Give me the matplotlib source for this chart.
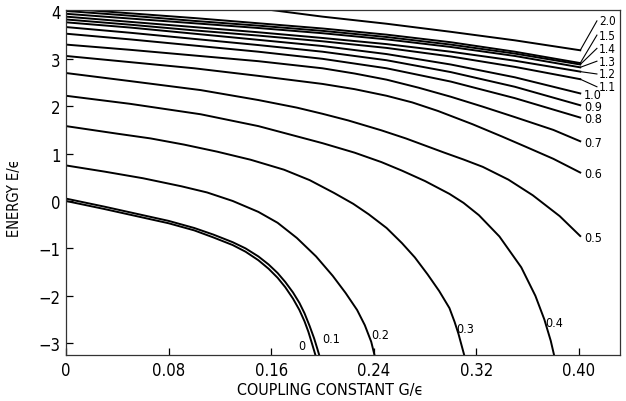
import matplotlib
matplotlib.use("Agg")
import matplotlib.pyplot as plt

plt.rcParams['font.family'] = ['DejaVu Sans']
plt.rcParams['font.stretch'] = 'condensed'

# ---- data ----
labels = ["0", "0.1", "0.2", "0.3", "0.4", "0.5", "0.6", "0.7", "0.8", "0.9",
          "1.0", "1.1", "1.2", "1.3", "1.4", "1.5", "2.0"]

g_0 = [0, 0.03, 0.06, 0.08, 0.10, 0.115, 0.13, 0.14, 0.15, 0.158, 0.165, 0.171, 0.177,
       0.182, 0.186, 0.189, 0.1915, 0.1935, 0.195]
e_0 = [0.0, -0.17, -0.35, -0.47, -0.62, -0.77, -0.93, -1.07, -1.25, -1.43, -1.62, -1.82,
       -2.06, -2.30, -2.54, -2.76, -2.98, -3.16, -3.3]

g_01 = [0, 0.03, 0.06, 0.08, 0.10, 0.115, 0.13, 0.14, 0.15, 0.158, 0.165, 0.171, 0.177,
        0.182, 0.186, 0.19, 0.1935, 0.196, 0.198]
e_01 = [0.05, -0.12, -0.30, -0.42, -0.57, -0.71, -0.87, -1.00, -1.17, -1.34, -1.52, -1.71,
        -1.93, -2.15, -2.37, -2.64, -2.90, -3.12, -3.3]

g_02 = [0, 0.03, 0.06, 0.09, 0.11, 0.13, 0.15, 0.165, 0.18, 0.195, 0.208, 0.218, 0.227,
        0.233, 0.238, 0.241]
e_02 = [0.75, 0.62, 0.48, 0.31, 0.18, 0.00, -0.23, -0.46, -0.78, -1.17, -1.58, -1.94, -2.30,
        -2.62, -2.97, -3.3]

g_03 = [0, 0.04, 0.066, 0.092, 0.118, 0.144, 0.170, 0.19, 0.209, 0.224, 0.236, 0.25, 0.262,
        0.272, 0.282, 0.291, 0.299, 0.303, 0.306, 0.309, 0.311]
e_03 = [1.58, 1.42, 1.32, 1.19, 1.04, 0.87, 0.66, 0.44, 0.17, -0.06, -0.28, -0.57, -0.89,
        -1.19, -1.55, -1.90, -2.26, -2.55, -2.80, -3.10, -3.3]

g_04 = [0, 0.05, 0.105, 0.15, 0.2, 0.225, 0.246, 0.262, 0.28, 0.299, 0.31, 0.322, 0.338,
        0.355, 0.366, 0.373, 0.378, 0.381]
e_04 = [2.22, 2.05, 1.83, 1.58, 1.22, 1.02, 0.82, 0.64, 0.42, 0.15, -0.04, -0.30, -0.75,
        -1.40, -2.0, -2.5, -2.95, -3.3]

g_05 = [0, 0.05, 0.105, 0.15, 0.18, 0.2, 0.22, 0.246, 0.265, 0.28, 0.295, 0.31, 0.325,
        0.345, 0.364, 0.385, 0.401]
e_05 = [2.70, 2.53, 2.34, 2.13, 1.97, 1.84, 1.70, 1.49, 1.32, 1.17, 1.02, 0.875, 0.72,
        0.45, 0.12, -0.32, -0.74]

g_06 = [0, 0.05, 0.1, 0.15, 0.2, 0.225, 0.25, 0.27, 0.29, 0.317, 0.34, 0.358, 0.38, 0.401]
e_06 = [3.06, 2.93, 2.80, 2.64, 2.47, 2.36, 2.22, 2.08, 1.90, 1.62, 1.36, 1.15, 0.89, 0.60]

g_07 = [0, 0.05, 0.1, 0.15, 0.2, 0.225, 0.25, 0.275, 0.3, 0.325, 0.35, 0.38, 0.401]
e_07 = [3.30, 3.19, 3.07, 2.95, 2.80, 2.69, 2.56, 2.39, 2.20, 1.99, 1.77, 1.50, 1.26]

g_up = [0, 0.05, 0.1, 0.15, 0.2, 0.25, 0.3, 0.35, 0.401]
e_08 = [3.53, 3.41, 3.28, 3.15, 3.00, 2.80, 2.52, 2.17, 1.76]
e_09 = [3.67, 3.55, 3.42, 3.29, 3.15, 2.97, 2.72, 2.41, 2.02]
e_10 = [3.77, 3.66, 3.53, 3.40, 3.27, 3.10, 2.88, 2.61, 2.27]
e_11 = [3.83, 3.72, 3.60, 3.49, 3.37, 3.23, 3.05, 2.83, 2.57]
e_12 = [3.89, 3.78, 3.67, 3.56, 3.44, 3.31, 3.15, 2.96, 2.73]
e_13 = [3.95, 3.85, 3.75, 3.65, 3.54, 3.41, 3.25, 3.06, 2.82]
e_14 = [4.01, 3.91, 3.80, 3.70, 3.59, 3.46, 3.30, 3.11, 2.88]
e_15 = [4.06, 3.96, 3.86, 3.75, 3.64, 3.51, 3.35, 3.15, 2.91]

g_20 = [0.1, 0.16, 0.2, 0.25, 0.3, 0.35, 0.401]
e_20 = [4.22, 4.03, 3.89, 3.74, 3.57, 3.39, 3.18]

x_ticks = [0, 0.08, 0.16, 0.24, 0.32, 0.40]
x_ticklabels = ["0", "0.08", "0.16", "0.24", "0.32", "0.40"]
y_ticks = [-3, -2, -1, 0, 1, 2, 3, 4]

curves = [(g_0, e_0), (g_01, e_01), (g_02, e_02), (g_03, e_03), (g_04, e_04),
          (g_05, e_05), (g_06, e_06), (g_07, e_07), (g_up, e_08), (g_up, e_09),
          (g_up, e_10), (g_up, e_11), (g_up, e_12), (g_up, e_13), (g_up, e_14),
          (g_up, e_15), (g_20, e_20)]

# ---- figure ----
fig = plt.figure(figsize=(6.26, 4.02), dpi=100)
ax = fig.add_axes([66 / 626, 46 / 402, (620 - 66) / 626, (356 - 11) / 402])
ax.set_xlim(0, 0.432)
ax.set_ylim(-3.25, 4.03)

for g, e in curves:
    ax.plot(g, e, color="black", lw=1.4, solid_joinstyle="round")

lab_fs = 9

# labels at the bottom
bottom_pos = {"0": (0.181, -3.04), "0.1": (0.200, -2.90), "0.2": (0.238, -2.82),
              "0.3": (0.304, -2.70), "0.4": (0.374, -2.57)}
for lab, (x, y) in bottom_pos.items():
    ax.text(x, y, lab, fontsize=lab_fs, ha="left", va="center")

# labels at the right, attached directly
for lab, (g, e) in zip(labels[5:11], curves[5:11]):
    ax.text(g[-1] + 0.003, e[-1] - 0.03, lab, fontsize=lab_fs, ha="left", va="center")

# labels with leader lines
leader_y = {"1.1": 2.41, "1.2": 2.68, "1.3": 2.95, "1.4": 3.22, "1.5": 3.50, "2.0": 3.80}
for lab, (g, e) in zip(labels[11:], curves[11:]):
    ty = leader_y[lab]
    ax.plot([g[-1], 0.414], [e[-1], ty], color="black", lw=0.8)
    ax.text(0.4155, ty, lab, fontsize=8.5, ha="left", va="center")

ax.set_xticks(x_ticks)
ax.set_xticklabels(x_ticklabels)
ax.set_yticks(y_ticks)
ax.tick_params(direction="in", length=5, width=0.9, labelsize=12, pad=4,
               top=False, right=False)
for s in ax.spines.values():
    s.set_linewidth(0.9)
    s.set_color("#333333")

ax.set_xlabel("COUPLING CONSTANT G/ϵ", fontsize=11.5)
ax.set_ylabel("ENERGY E/ϵ", fontsize=10.5)
ax.xaxis.set_label_coords((330 - 66) / 554, -(383 - 356) / 345)
ax.yaxis.set_label_coords(-(66 - 22) / 554, (356 - 198) / 345)

fig.savefig("out.png", dpi=100)
